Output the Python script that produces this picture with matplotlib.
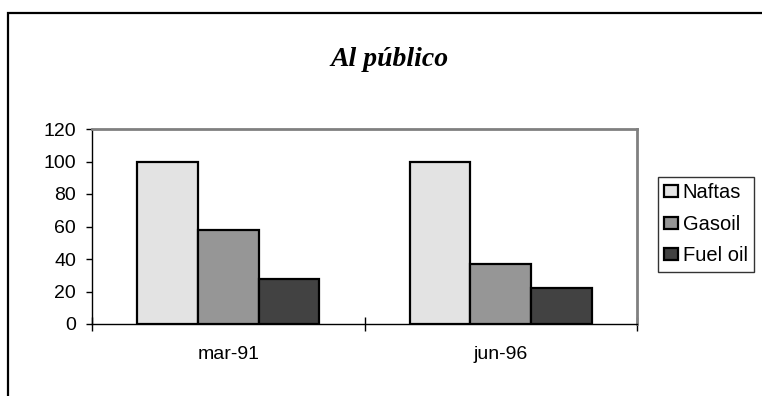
import matplotlib
matplotlib.use("Agg")
import matplotlib.pyplot as plt
from matplotlib.patches import Rectangle
import numpy as np

categories = ["mar-91", "jun-96"]
series_names = ["Naftas", "Gasoil", "Fuel oil"]
naftas = [100, 100]
gasoil = [58, 37]
fuel_oil = [28, 22]
y_ticks = [0, 20, 40, 60, 80, 100, 120]
title = "Al público"

colors = ["#e3e3e3", "#969696", "#424242"]

plt.rcParams["font.family"] = ["Liberation Sans", "DejaVu Sans"]

W, H = 762, 396
fig = plt.figure(figsize=(W / 100, H / 100), dpi=100)

# outer chart frame (runs off the right and bottom edges)
fig.add_artist(Rectangle((8 / W, -0.1), 1.2, 1.1 - 13 / H,
                         transform=fig.transFigure, fill=False,
                         edgecolor="black", linewidth=1.6))

ax = fig.add_axes([92 / W, 1 - 324 / H, (637 - 92) / W, (324 - 129) / H])

x = np.arange(len(categories))
w = 2 / 9
for i, (vals, name) in enumerate(zip([naftas, gasoil, fuel_oil], series_names)):
    ax.bar(x + (i - 1) * w, vals, width=w, color=colors[i], edgecolor="black",
           linewidth=1.6, label=name, zorder=3)

ax.set_xlim(-0.5, len(categories) - 0.5)
ax.set_ylim(0, 120)
ax.set_yticks(y_ticks)
ax.tick_params(axis="y", direction="out", length=4.5, width=1, labelsize=14, pad=7)

# category boundary ticks crossing the axis, labels at the centres
ax.set_xticks(np.arange(len(categories) + 1) - 0.5)
ax.set_xticklabels([])
ax.tick_params(axis="x", which="major", direction="inout", length=9.5, width=1)
ax.set_xticks(x, minor=True)
ax.set_xticklabels(categories, minor=True)
ax.tick_params(axis="x", which="minor", length=0, labelsize=14, pad=16)

for s in ["top", "right"]:
    ax.spines[s].set_color("#808080")
    ax.spines[s].set_linewidth(2)
for s in ["left", "bottom"]:
    ax.spines[s].set_color("black")
    ax.spines[s].set_linewidth(1)

fig.text(389 / W, 1 - 60 / H, title, ha="center", va="center",
         family=["Liberation Serif", "DejaVu Serif"], style="italic",
         weight="bold", fontsize=20)

leg = fig.legend(loc="upper left", bbox_to_anchor=(658 / W, 1 - 177 / H),
                 frameon=True, fancybox=False, fontsize=14.5,
                 handlelength=0.65, handleheight=0.55, handletextpad=0.25,
                 labelspacing=0.62, borderpad=0.32, borderaxespad=0)
leg.get_frame().set_edgecolor("black")
leg.get_frame().set_linewidth(1)

fig.savefig("out.png", dpi=100)
